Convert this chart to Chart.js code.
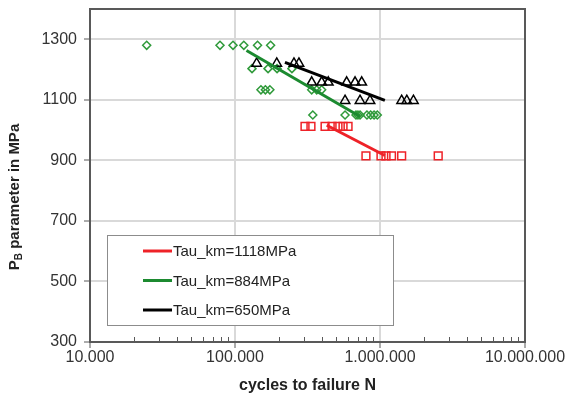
<!DOCTYPE html>
<html>
<head>
<meta charset="utf-8">
<script src="https://cdn.jsdelivr.net/npm/chart.js@4/dist/chart.umd.min.js"></script>
<style>
  html, body { margin: 0; padding: 0; background: #fff; }
  #wrap { width: 569px; height: 401px; position: relative; }
</style>
</head>
<body>
<div id="wrap"><canvas id="chartWoehler"></canvas></div>
<script>
/* ── DATA ────────────────────────────────────────────── */
const SERIES_NAMES = ['Tau_km=1118MPa', 'Tau_km=884MPa', 'Tau_km=650MPa'];
const X_TICKS = [10000, 100000, 1000000, 10000000];
const Y_TICKS = [300, 500, 700, 900, 1100, 1300];

// red squares (Tau_km=1118MPa)
const RED_N = [304e3, 334e3, 418e3, 467e3, 513e3, 556e3, 602e3, 800e3, 1016e3, 1100e3, 1200e3, 1410e3, 2520e3];
const RED_P = [1012, 1012, 1012, 1012, 1012, 1012, 1012, 915, 915, 915, 915, 915, 915];

// green diamonds (Tau_km=884MPa)
const GREEN_N = [24.6e3, 78.8e3, 96.9e3, 115e3, 143e3, 176e3,
                 131e3, 169e3, 195e3, 247e3,
                 151e3, 162e3, 174e3, 338e3, 366e3, 396e3,
                 344e3, 574e3, 683e3, 705e3, 728e3, 813e3, 862e3, 910e3, 958e3];
const GREEN_P = [1280, 1280, 1280, 1280, 1280, 1280,
                 1203, 1203, 1203, 1203,
                 1133, 1133, 1133, 1133, 1133, 1133,
                 1050, 1050, 1050, 1050, 1050, 1050, 1050, 1050, 1050];

// black triangles (Tau_km=650MPa)
const BLACK_N = [141e3, 194e3, 255e3, 276e3,
                 338e3, 396e3, 440e3, 589e3, 673e3, 748e3,
                 574e3, 728e3, 853e3, 1410e3, 1530e3, 1700e3];
const BLACK_P = [1220, 1220, 1220, 1220,
                 1158, 1158, 1158, 1158, 1158, 1158,
                 1097, 1097, 1097, 1097, 1097, 1097];

// trend lines
const RED_FIT_N = [429e3, 1080e3];
const RED_FIT_P = [1016, 916];
const GREEN_FIT_N = [120e3, 728e3];
const GREEN_FIT_P = [1263, 1045];
const BLACK_FIT_N = [221e3, 1080e3];
const BLACK_FIT_P = [1224, 1098];

/* ── HELPERS ─────────────────────────────────────────── */
const COL = { red: '#ee2228', green: '#1c8a30', greenPt: '#2f9a3a', black: '#000000',
              axis: '#595959', grid: '#d9d9d9', text: '#333333' };
const LINE_COLORS = [COL.red, COL.green, COL.black];
const FONT = "'Liberation Sans', Arial, sans-serif";
const pts = (xs, ys) => xs.map((x, i) => ({ x, y: ys[i] }));
const fmt = v => String(v).replace(/\B(?=(\d{3})+(?!\d))/g, '.');

const fitLine = (xs, ys, color) => ({
  data: pts(xs, ys), showLine: true, borderColor: color, borderWidth: 3,
  pointRadius: 0, fill: false,
});
const marks = (xs, ys, color, style, r) => ({
  data: pts(xs, ys), showLine: false, pointStyle: style, pointRadius: r,
  pointBorderColor: color, pointBackgroundColor: 'rgba(0,0,0,0)', pointBorderWidth: 1.5,
});

/* ── EXTRAS: frame, minor ticks, y title, legend ─────── */
const extras = {
  id: 'extras',
  afterDraw(chart) {
    const { ctx, chartArea: a, scales } = chart;
    ctx.save();

    // top / right frame
    ctx.strokeStyle = COL.axis;
    ctx.lineWidth = 2;
    ctx.beginPath();
    ctx.moveTo(a.left, a.top); ctx.lineTo(a.right, a.top); ctx.lineTo(a.right, a.bottom);
    ctx.stroke();

    // minor log ticks, pointing inward
    ctx.lineWidth = 1;
    ctx.beginPath();
    X_TICKS.slice(0, -1).forEach(d => {
      for (let k = 2; k <= 9; k++) {
        const x = Math.round(scales.x.getPixelForValue(d * k)) + 0.5;
        ctx.moveTo(x, a.bottom); ctx.lineTo(x, a.bottom - 5);
      }
    });
    ctx.stroke();

    // y title with subscript
    ctx.fillStyle = '#222';
    ctx.textBaseline = 'middle';
    const big = 'bold 15px ' + FONT, small = 'bold 10px ' + FONT;
    const p1 = 'P', sub = 'B', p2 = ' parameter in MPa';
    ctx.font = big; const w1 = ctx.measureText(p1).width, w3 = ctx.measureText(p2).width;
    ctx.font = small; const w2 = ctx.measureText(sub).width;
    ctx.translate(15, 197);
    ctx.rotate(-Math.PI / 2);
    let x0 = -(w1 + w2 + w3) / 2;
    ctx.font = big; ctx.fillText(p1, x0, 0);
    ctx.font = small; ctx.fillText(sub, x0 + w1, 4);
    ctx.font = big; ctx.fillText(p2, x0 + w1 + w2, 0);
    ctx.setTransform(1, 0, 0, 1, 0, 0);

    // legend box
    ctx.fillStyle = '#fff';
    ctx.fillRect(107, 235, 286, 90);
    ctx.strokeStyle = '#8c8c8c';
    ctx.lineWidth = 1;
    ctx.strokeRect(107.5, 235.5, 286, 90);
    ctx.font = '15px ' + FONT;
    ctx.textBaseline = 'middle';
    SERIES_NAMES.forEach((name, i) => {
      const y = 251 + i * 29.5;
      ctx.strokeStyle = LINE_COLORS[i];
      ctx.lineWidth = 3;
      ctx.beginPath(); ctx.moveTo(143, y); ctx.lineTo(172, y); ctx.stroke();
      ctx.fillStyle = '#222';
      ctx.fillText(name, 173, y + 1);
    });
    ctx.restore();
  },
};

/* ── CHART ───────────────────────────────────────────── */
document.addEventListener('DOMContentLoaded', () => {
  const el = document.getElementById('chartWoehler');
  new Chart(el, {
    type: 'scatter',
    data: {
      datasets: [
        fitLine(RED_FIT_N, RED_FIT_P, COL.red),
        fitLine(GREEN_FIT_N, GREEN_FIT_P, COL.green),
        fitLine(BLACK_FIT_N, BLACK_FIT_P, COL.black),
        marks(BLACK_N, BLACK_P, COL.black, 'triangle', 5.5),
        marks(GREEN_N, GREEN_P, COL.greenPt, 'rectRot', 4),
        marks(RED_N, RED_P, COL.red, 'rect', 5.5),
      ],
    },
    options: {
      responsive: true,
      maintainAspectRatio: false,
      animation: false,
      layout: { padding: { top: 9, right: 44, left: 0, bottom: 0 } },
      plugins: { legend: { display: false }, tooltip: { enabled: false } },
      scales: {
        x: {
          type: 'logarithmic', min: 1e4, max: 1e7,
          afterBuildTicks: s => { s.ticks = X_TICKS.map(v => ({ value: v })); },
          afterFit: s => { s.height = 59; },
          grid: { color: COL.grid, lineWidth: 2, tickColor: COL.axis, tickLength: 6, tickWidth: 1 },
          border: { color: COL.axis, width: 2 },
          ticks: { callback: v => fmt(v), color: COL.text, font: { family: FONT, size: 16 },
                   padding: 0, maxRotation: 0, autoSkip: false },
          title: { display: true, text: 'cycles to failure N', color: '#222',
                   font: { family: FONT, size: 16, weight: 'bold' }, padding: { top: 4, bottom: 6 } },
        },
        y: {
          min: 300, max: 1400,
          afterBuildTicks: s => { s.ticks = Y_TICKS.map(v => ({ value: v })); },
          afterFit: s => { s.width = 90; s.paddingTop = 0; s.paddingBottom = 0; },
          grid: { color: COL.grid, lineWidth: 2, tickColor: COL.axis, tickLength: 6, tickWidth: 1 },
          border: { color: COL.axis, width: 2 },
          ticks: { callback: v => String(v), color: COL.text, font: { family: FONT, size: 16 }, padding: 7 },
        },
      },
    },
    plugins: [extras],
  });
});
</script>
</body>
</html>
